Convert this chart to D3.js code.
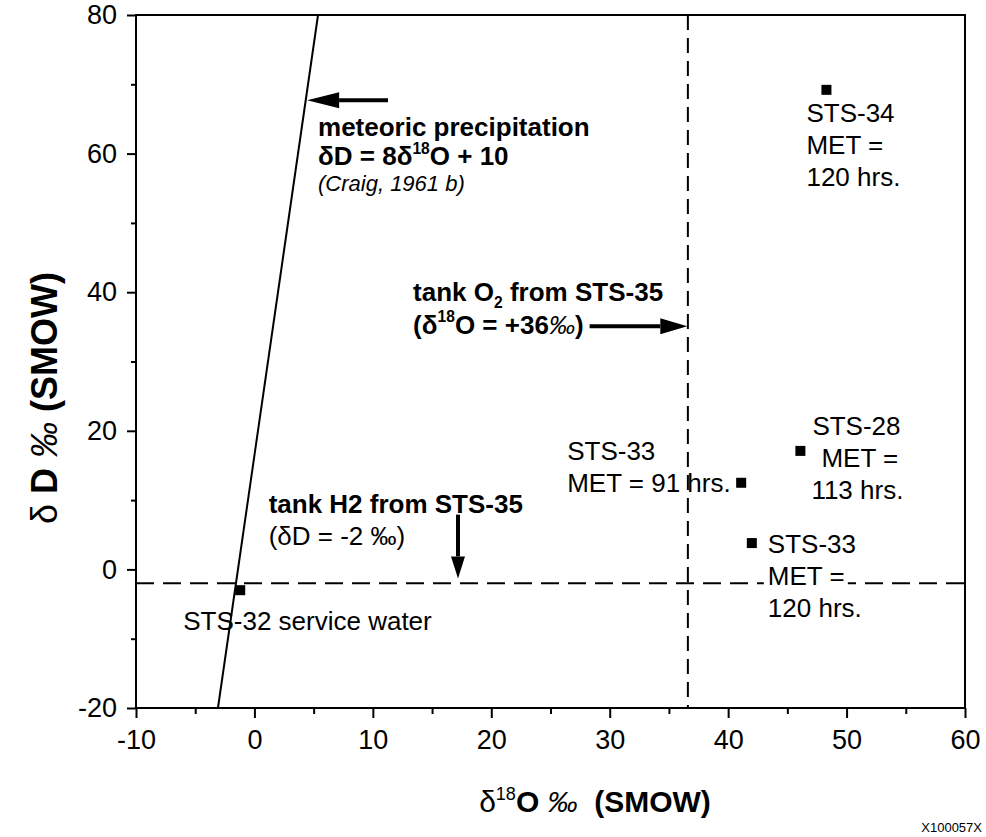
<!DOCTYPE html>
<meta charset="utf-8">
<style>
body{margin:0;background:#fff;font-family:'Liberation Sans',Arial,Helvetica,sans-serif;}
text{fill:#000}
.tick text{font-size:27px;font-family:'Liberation Sans',Arial,sans-serif}
.lbl{font-size:26px}
</style>
<body>
<script src="https://d3js.org/d3.v7.min.js"></script>
<script>
// samples: d18O and dD (permil, SMOW)
var samples = ["STS-34", "STS-28", "STS-33 91h", "STS-33 120h", "STS-32"];
var d18O = [48.3, 46.1, 41.1, 42.0, -1.2];
var dD = [69.2, 17.1, 12.5, 3.8, -3.0];
var sampleLines = [
  ["STS-34", "MET =", "120 hrs."],
  ["STS-28", "MET =", "113 hrs."],
  ["STS-33", "MET = 91 hrs."],
  ["STS-33", "MET =", "120 hrs."],
  ["STS-32 service water"]
];
// meteoric water line as drawn (end points) and tank gas references
var meteoricX = [-3.08, 5.37];
var meteoricY = [-20, 80];
var tankO2 = 36.6;   // d18O
var tankH2 = -2;     // dD
var xTicks = [-10, 0, 10, 20, 30, 40, 50, 60];
var yTicks = [-20, 0, 20, 40, 60, 80];

var W = 986, H = 837;
var svg = d3.select("body").append("svg").attr("width", W).attr("height", H);

var x = d3.scaleLinear().domain([-10, 60]).range([136, 965]);
var y = d3.scaleLinear().domain([-20, 80]).range([708, 15]);

// frame
svg.append("rect")
  .attr("x", x(-10)).attr("y", y(80))
  .attr("width", x(60) - x(-10)).attr("height", y(-20) - y(80))
  .attr("fill", "none").attr("stroke", "#000").attr("stroke-width", 2);

// minor ticks
svg.append("g").attr("transform", "translate(0," + y(-20) + ")")
  .call(d3.axisBottom(x).tickValues(d3.range(-5, 60, 10)).tickSize(6).tickFormat(""))
  .call(g => g.select(".domain").remove())
  .selectAll("line").attr("stroke-width", 2);
svg.append("g").attr("transform", "translate(" + x(-10) + ",0)")
  .call(d3.axisLeft(y).tickValues(d3.range(-10, 80, 20)).tickSize(5).tickFormat(""))
  .call(g => g.select(".domain").remove())
  .selectAll("line").attr("stroke-width", 2);

// major ticks (plain hyphen for negatives, as in the original)
var fmt = d => String(d);
var xAxis = svg.append("g").attr("transform", "translate(0," + y(-20) + ")")
  .call(d3.axisBottom(x).tickValues(xTicks).tickSize(10).tickPadding(12).tickFormat(fmt));
xAxis.select(".domain").remove();
xAxis.selectAll("line").attr("stroke-width", 2);
xAxis.selectAll("text").attr("fill", "#000");

var yAxis = svg.append("g").attr("transform", "translate(" + x(-10) + ",0)")
  .call(d3.axisLeft(y).tickValues(yTicks).tickSize(9).tickPadding(10).tickFormat(fmt));
yAxis.select(".domain").remove();
yAxis.selectAll("line").attr("stroke-width", 2);
yAxis.selectAll("text").attr("fill", "#000");

// reference lines
svg.append("line")
  .attr("x1", x(tankO2)).attr("x2", x(tankO2))
  .attr("y1", y(80)).attr("y2", y(-20))
  .attr("stroke", "#000").attr("stroke-width", 2).attr("stroke-dasharray", "15,8");
svg.append("line")
  .attr("x1", x(-10)).attr("x2", x(60))
  .attr("y1", y(tankH2)).attr("y2", y(tankH2))
  .attr("stroke", "#000").attr("stroke-width", 2).attr("stroke-dasharray", "18,9");

// meteoric line
svg.append("line")
  .attr("x1", x(meteoricX[0])).attr("y1", y(meteoricY[0]))
  .attr("x2", x(meteoricX[1])).attr("y2", y(meteoricY[1]))
  .attr("stroke", "#000").attr("stroke-width", 2);

// sample labels, offsets in px from the marker
var labelPos = [
  { dx: [-20, -20, -20], dy: 32 },
  { dx: [12, 21, 11], dy: -16 },
  { dx: [-174, -174], dy: -23 },
  { dx: [16, 16, 16], dy: 10 },
  { dx: [-57], dy: 40 }
];
var lineStep = 32;

samples.forEach(function(s, i) {
  var px = x(d18O[i]), py = y(dD[i]);
  var g = svg.append("g");
  sampleLines[i].forEach(function(t, j) {
    var tx = px + labelPos[i].dx[j], ty = py + labelPos[i].dy + j * lineStep;
    if (i === 3 && j === 1) {
      // the dashed line is broken behind this label
      g.append("rect").attr("x", tx - 4).attr("y", ty - 22)
        .attr("width", 84).attr("height", 28).attr("fill", "#fff");
    }
    g.append("text").attr("class", "lbl").attr("x", tx).attr("y", ty).text(t);
  });
});

// markers
svg.selectAll(".pt").data(samples).enter().append("rect")
  .attr("class", "pt")
  .attr("x", (d, i) => x(d18O[i]) - 5)
  .attr("y", (d, i) => y(dD[i]) - 5)
  .attr("width", 10).attr("height", 10)
  .attr("fill", "#000");

// annotations (data coords)
var notes = [
  { x: 5.37, y: 62.6, size: 26, weight: "bold", parts: [["meteoric precipitation"]] },
  { x: 5.37, y: 58.3, size: 26, weight: "bold", parts: [["\u03b4D = 8\u03b4"], ["18", "sup"], ["O + 10"]] },
  { x: 5.37, y: 54.6, size: 22, style: "italic", parts: [["(Craig, 1961 b)"]] },
  { x: 13.4, y: 38.7, size: 26, weight: "bold", parts: [["tank O"], ["2", "sub"], [" from STS-35"]] },
  { x: 13.4, y: 34.0, size: 26, weight: "bold", parts: [["(\u03b4"], ["18", "sup"], ["O = +36"], ["\u2030", "it"], [")"]] },
  { x: 1.2, y: 8.14, size: 26, weight: "bold", parts: [["tank H2 from STS-35"]] },
  { x: 1.2, y: 3.52, size: 26, parts: [["(\u03b4D = -2 "], ["\u2030"], [")"]] }
];

notes.forEach(function(n) {
  var t = svg.append("text").attr("x", x(n.x)).attr("y", y(n.y))
    .style("font-size", n.size + "px")
    .style("font-weight", n.weight || "normal")
    .style("font-style", n.style || "normal");
  var shift = 0;
  n.parts.forEach(function(p) {
    var sp = t.append("tspan").text(p[0]);
    var want = p[1] === "sup" ? -0.45 * n.size : p[1] === "sub" ? 0.25 * n.size : 0;
    if (want !== shift) { sp.attr("dy", want - shift); shift = want; }
    if (p[1] === "sup" || p[1] === "sub") sp.style("font-size", (n.size * 0.6) + "px");
    if (p[1] === "it") sp.style("font-style", "italic").style("font-weight", "normal");
  });
});

// arrows (data coords)
var arrows = [
  { from: [11.28, 67.7], to: [4.45, 67.7], head: 32, half: 8 },
  { from: [28.3, 35.1], to: [36.55, 35.1], head: 27, half: 8 },
  { from: [17.19, 7.9], to: [17.19, -1.3], head: 22, half: 7 }
];
arrows.forEach(function(a) {
  var x1 = x(a.from[0]), y1 = y(a.from[1]), x2 = x(a.to[0]), y2 = y(a.to[1]);
  var len = Math.hypot(x2 - x1, y2 - y1), ux = (x2 - x1) / len, uy = (y2 - y1) / len;
  var bx = x2 - ux * a.head, by = y2 - uy * a.head;
  svg.append("line").attr("x1", x1).attr("y1", y1).attr("x2", bx).attr("y2", by)
    .attr("stroke", "#000").attr("stroke-width", 4);
  svg.append("polygon")
    .attr("points", [[x2, y2], [bx - uy * a.half, by + ux * a.half], [bx + uy * a.half, by - ux * a.half]].join(" "))
    .attr("fill", "#000");
});

// axis titles
var xt = svg.append("text").attr("x", 595).attr("y", 812)
  .attr("text-anchor", "middle").style("font-size", "30px").style("font-weight", "bold");
xt.append("tspan").text("\u03b4").style("font-weight", "normal");
xt.append("tspan").text("18").style("font-size", "18px").style("font-weight", "normal").attr("dy", -12);
xt.append("tspan").text("O ").attr("dy", 12);
xt.append("tspan").text("\u2030").style("font-style", "italic").style("font-weight", "normal");
xt.append("tspan").text("  (SMOW)").attr("xml:space", "preserve");

var yt = svg.append("text")
  .attr("transform", "translate(57,398) rotate(-90)")
  .attr("text-anchor", "middle").style("font-size", "36px").style("font-weight", "bold");
yt.append("tspan").text("\u03b4 ").style("font-weight", "normal");
yt.append("tspan").text("D ");
yt.append("tspan").text("\u2030").style("font-style", "italic").style("font-weight", "normal");
yt.append("tspan").text("  (SMOW)");

svg.append("text").attr("x", 982).attr("y", 832).attr("text-anchor", "end")
  .style("font-size", "13px").text("X100057X");
</script>
</body>
